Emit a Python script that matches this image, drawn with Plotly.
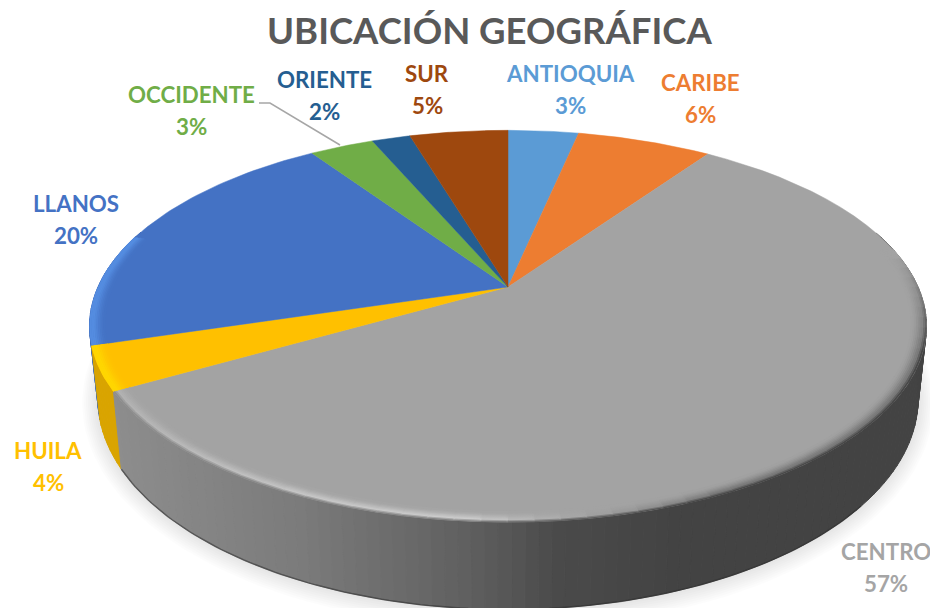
import numpy as np
import plotly.graph_objects as go

categories = ["ANTIOQUIA", "CARIBE", "CENTRO", "HUILA", "LLANOS", "OCCIDENTE", "ORIENTE", "SUR"]
values = [3.3, 6.3, 57.0, 3.6, 20.3, 3.0, 1.8, 4.6]
colors = ["#5b9bd5", "#ed7d31", "#a3a3a3", "#ffc000", "#4472c4", "#70ad47", "#255e91", "#9e480e"]
label_colors = ["#5b9bd5", "#ed7d31", "#a5a5a5", "#ffc000", "#4472c4", "#70ad47", "#255e91", "#9e480e"]
label_x = [570, 700, 886, 48, 76, 191, 324, 427]
label_y = [73, 82, 551, 450, 203, 94, 79, 73]
title = "UBICACIÓN GEOGRÁFICA"

CX, CY, R, H, K = 508, 287, 410, 188, 0.2
DEPTH, SHRINK = 70, 0.98


def top(theta, r=1.0):
    t = np.radians(theta)
    s = 1 / (1 + K * r * np.cos(t))
    return CX + R * r * np.sin(t) * s, CY - H * r * np.cos(t) * s


def base(theta):
    t = np.radians(theta)
    s = 1 / (1 + K * np.cos(t))
    x, y = top(theta)
    return CX + (x - CX) * SHRINK, y + DEPTH * s


def hexgray(v):
    v = int(round(float(v)))
    return f"rgb({v},{v},{v})"


fig = go.Figure()
edges = np.concatenate([[0], np.cumsum(values)]) / sum(values) * 360


def poly(xs, ys, fill, line=None, lw=1):
    fig.add_trace(go.Scatter(x=list(xs), y=list(ys), mode="lines", fill="toself", fillcolor=fill,
                             line=dict(color=line or fill, width=lw), hoverinfo="skip", showlegend=False))


def stroke(x, y, color, w):
    fig.add_trace(go.Scatter(x=x, y=y, mode="lines", line=dict(color=color, width=w),
                             hoverinfo="skip", showlegend=False))


# soft shadow below the disc
th = np.linspace(60, 300, 120)
bx, by = base(th)
for grow in np.linspace(1.07, 1.005, 9):
    poly(CX + (bx - CX) * (1 + (grow - 1) * 0.55), 340 + (by - 340) * grow, "rgba(0,0,0,0.012)", "rgba(0,0,0,0)", 0)

# side wall, back to front
wall_x = [100, 300, 465, 560, 680, 930]
wall_v = [0x8e, 0x7b, 0x60, 0x4a, 0x43, 0x43]
quads = []
for i, name in enumerate(categories):
    a0, a1 = edges[i], edges[i + 1]
    n = max(1, int((a1 - a0) / 1.5))
    steps = np.linspace(a0, a1, n + 1)
    for j in range(n):
        quads.append((i, steps[j], steps[j + 1]))
quads = [q for q in quads if np.cos(np.radians((q[1] + q[2]) / 2)) < 0.3]
quads.sort(key=lambda q: -np.cos(np.radians((q[1] + q[2]) / 2)))
for i, a, b in quads:
    tx0, ty0 = top(a)
    tx1, ty1 = top(b)
    bx0, by0 = base(a)
    bx1, by1 = base(b)
    if categories[i] == "HUILA":
        c = "#d9a400"
    elif categories[i] == "LLANOS":
        c = "#3f6cb8"
    elif categories[i] == "CENTRO":
        c = hexgray(np.interp((tx0 + tx1) / 2, wall_x, wall_v))
    else:
        c = colors[i]
    poly([tx0, tx1, bx1, bx0, tx0], [ty0, ty1, by1, by0, ty0], c)

# dark seam at the foot of the wall
th = np.linspace(edges[3], 130, 120)
bx, by = base(th)
stroke(bx, by, "rgba(45,45,45,0.55)", 1.5)

# top face slices
for i, name in enumerate(categories):
    th = np.linspace(edges[i], edges[i + 1], 60)
    x, y = top(th)
    poly(np.concatenate([[CX], x, [CX]]), np.concatenate([[CY], y, [CY]]), colors[i], lw=0.5)

# bevel along the front rim, painted from the outside in
a_x = [100, 465, 560, 700, 930]
a_v = [0x90, 0x82, 0x62, 0x48, 0x48]
b_x = [100, 300, 465, 540, 620, 720, 930]
b_v = [0xb0, 0xc6, 0xcc, 0xb0, 0x9a, 0x78, 0x78]
FACE = 0xa3
ring_r = [0.998, 0.994, 0.990, 0.986, 0.982, 0.978, 0.974, 0.970, 0.966]
ring_a = [1.0, 0.5, 0.0, 0.0, 0.0, 0.0, 0.0, 0.0, 0.0]
ring_b = [0.0, 0.5, 1.0, 0.85, 0.65, 0.45, 0.28, 0.14, 0.05]
for r, wa, wb in zip(ring_r, ring_a, ring_b):
    for a in np.arange(78, edges[3], 3.0):
        b = min(a + 3.2, edges[3])
        x, y = top(np.array([a, b]), r)
        xm = x.mean()
        fade = np.clip((a - 78) / 30, 0, 1)
        v = FACE + ((np.interp(xm, a_x, a_v) - FACE) * wa + (np.interp(xm, b_x, b_v) - FACE) * wb) * fade
        stroke(x, y, hexgray(v), 2.2)
    for idx, strong, a1 in ((3, (255, 214, 0), edges[4]), (4, (84, 140, 224), edges[5] - 40)):
        x, y = top(np.linspace(edges[idx], a1, 14), r)
        face = (255, 192, 0) if idx == 3 else (68, 114, 196)
        m = wa + wb
        col = tuple(int(f + (s - f) * m) for f, s in zip(face, strong))
        stroke(x, y, f"rgb{col}", 2.2)

# leader line for OCCIDENTE
fig.add_shape(type="path", path="M 259 103 L 270 103 L 340 145", line=dict(color="#a6a6a6", width=1.5))

annotations = [dict(x=489, y=30, text=f"<b>{title}</b>", showarrow=False, xref="x", yref="y",
                    font=dict(family="Lato", size=36.5, color="#595959"))]
for name, v, c, lx, ly in zip(categories, values, label_colors, label_x, label_y):
    annotations.append(dict(x=lx, y=ly, text=f"<b>{name}</b>", showarrow=False, xref="x", yref="y",
                            font=dict(family="Lato", size=22.3, color=c)))
    annotations.append(dict(x=lx, y=ly + 32, text=f"<b>{round(v)}%</b>", showarrow=False, xref="x", yref="y",
                            font=dict(family="Lato", size=22.3, color=c)))

fig.update_layout(
    width=930, height=608, margin=dict(l=0, r=0, t=0, b=0), autosize=False,
    paper_bgcolor="white", plot_bgcolor="white", showlegend=False, annotations=annotations,
    xaxis=dict(range=[0, 930], visible=False, fixedrange=True),
    yaxis=dict(range=[608, 0], visible=False, fixedrange=True),
)
fig.write_html("out.html", config=dict(displayModeBar=False),
               post_script="document.body.style.margin='0';document.body.style.overflow='hidden';")
